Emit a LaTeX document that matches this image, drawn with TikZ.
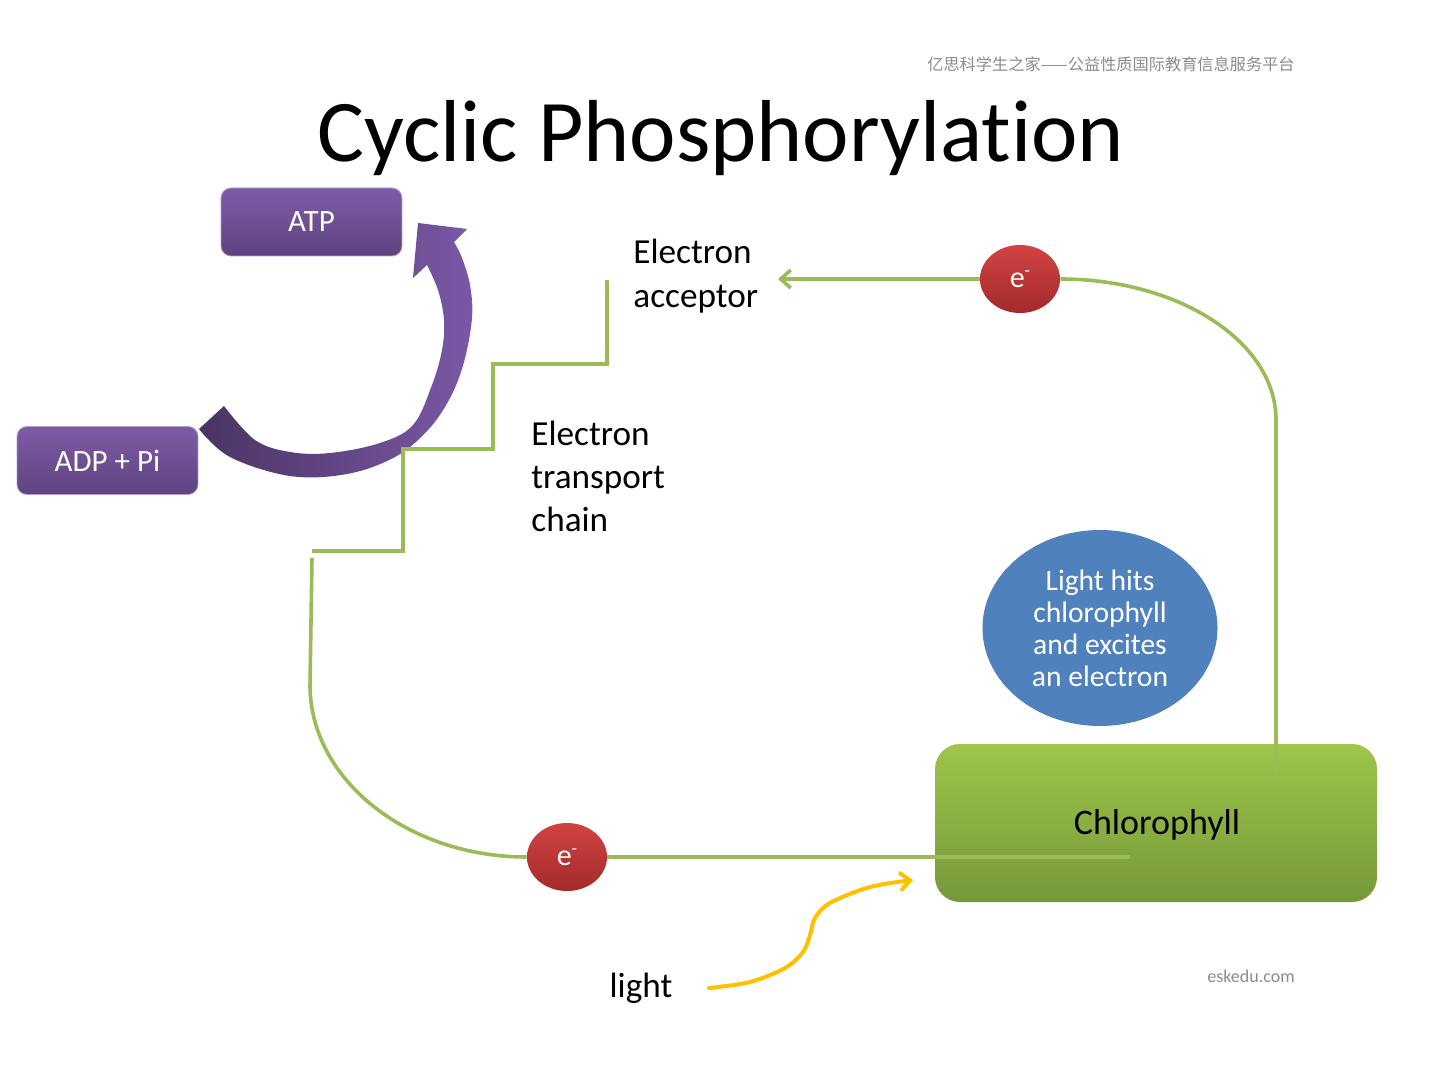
\documentclass[tikz,border=0pt]{standalone}
\usepackage{fontspec}
\setmainfont{Carlito}[Ligatures=NoCommon]
\newfontfamily\cjk{Noto Sans CJK SC}
\usetikzlibrary{arrows.meta,shapes.geometric}
\definecolor{gline}{HTML}{9BBB59}
\definecolor{ptop}{HTML}{7E5BA7}
\definecolor{pbot}{HTML}{5E4380}
\definecolor{pdark}{HTML}{4A3463}
\definecolor{plight}{HTML}{7A58A6}
\definecolor{rtop}{HTML}{D24343}
\definecolor{rbot}{HTML}{A32A2A}
\definecolor{blueell}{HTML}{4F81BD}
\definecolor{ctop}{HTML}{9DC64A}
\definecolor{cbot}{HTML}{76983A}
\definecolor{lightc}{HTML}{FFC000}
\definecolor{wm}{HTML}{8C8C8C}
\tikzset{
  pbox/.style={rounded corners=5pt, top color=ptop, bottom color=pbot, draw=ptop!60!white, line width=0.4pt,
    minimum width=90.5pt, minimum height=34pt, text=white, font=\fontsize{15.5}{18}\selectfont},
  ebub/.style={ellipse, top color=rtop, bottom color=rbot, minimum width=40pt, minimum height=34pt, inner sep=0pt,
    text=white, font=\fontsize{15}{18}\selectfont},
  gl/.style={draw=gline, line width=1.8pt},
  lbl/.style={align=left, inner sep=0pt, font=\fontsize{17.6}{22}\selectfont},
  barb/.style={-{Straight Barb[length=5pt,width=9pt]}}
}
\begin{document}
\begin{tikzpicture}[x=0.5pt,y=-0.5pt]
\useasboundingbox (0,0) rectangle (1440,1080);
\fill[white] (0,0) rectangle (1440,1080);

% watermark and title
\node[text=wm, font=\cjk\fontsize{8.1}{10}\selectfont, inner sep=0pt] (wmark) at (1111,64) {亿思科学生之家——公益性质国际教育信息服务平台};
\node[anchor=base, inner sep=0pt, font=\fontsize{44}{52}\selectfont] (title) at (721,162) {Cyclic Phosphorylation};
\node[text=wm, font=\fontsize{9}{11}\selectfont, inner sep=0pt] (site) at (1251,976) {eskedu.com};

% boxes
\node[pbox] (atp) at (311.5,222) {ATP};
\node[pbox] (adp) at (107.5,460.5) {ADP + Pi};

% curved purple arrow from ADP + Pi to ATP
\shade[left color=pdark, right color=plight]
  plot[smooth, tension=0.6] coordinates {(199,429) (230,457) (290,476) (347,474) (395,457) (428,430) (450,398) (464,362) (472,318) (470,285) (462,258) (454,242)}
  -- (467,229) -- (418,223) -- (413,278) --
  plot[smooth, tension=0.6] coordinates {(427,265) (438,290) (444,320) (442,350) (432,385) (413,425) (380,443) (330,453) (290,452) (255,440) (224,406)}
  -- cycle;

% chlorophyll and info bubble
\node[rounded corners=12.5pt, top color=ctop, bottom color=cbot, minimum width=221pt, minimum height=79pt] (chl) at (1156,823) {};
\node[font=\fontsize{18}{22}\selectfont, inner sep=0pt] (chltext) at (1157,825) {Chlorophyll};
\node[ellipse, fill=blueell, minimum width=117.5pt, minimum height=98pt, inner sep=0pt, align=center, text=white,
  font=\fontsize{14.8}{16}\selectfont] (info) at (1100,628) {Light hits\\chlorophyll\\and excites\\an electron};

% text labels
\node[lbl, anchor=west] (acc) at (633,276) {Electron\\acceptor};
\node[lbl, anchor=west, font=\fontsize{17.6}{21.5}\selectfont] (etc) at (531,476) {Electron\\transport\\chain};
\node[lbl] (light) at (641,988) {light};

% electrons
\node[ebub] (e1) at (1020,279) {e\raisebox{0.75ex}{\fontsize{9}{10}\selectfont -}};
\node[ebub] (e2) at (567,857) {e\raisebox{0.75ex}{\fontsize{9}{10}\selectfont -}};

% coordinates for free ends
\coordinate (acctip) at (778,279);
\coordinate (chtop) at (1276,775);
\coordinate (chin) at (1130,857);
\coordinate (stairtop) at (607,280);
\coordinate (stairend) at (312,551);
\coordinate (leftstart) at (312,558);
\coordinate (lt) at (709,988);
\coordinate (lend) at (913,880);

% green connectors
\draw[gl] (chtop) -- (1276,420) .. controls (1276,342) and (1179,279) .. (e1.east);
\draw[gl, barb] (e1.west) -- (acctip);
\draw[gl] (stairtop) -- (607,364) -- (493,364) -- (493,449) -- (403,449) -- (403,551) -- (stairend);
\draw[gl] (leftstart) -- (310,685) .. controls (310,780) and (408,857) .. (e2.west);
\draw[gl] (e2.east) -- (chin);

% light arrow
\draw[lightc, line width=2pt, line cap=round, -{Straight Barb[length=5pt,width=9pt]}]
  plot[smooth, tension=0.55] coordinates {(lt) (750,982) (785,968) (803,952) (810,935) (815,918) (830,903) (870,887) (lend)};
\end{tikzpicture}
\end{document}
